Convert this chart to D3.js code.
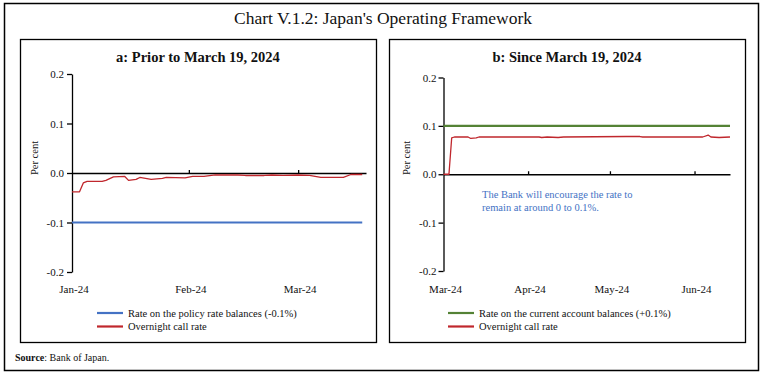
<!DOCTYPE html>
<html>
<head>
<meta charset="utf-8">
<script src="https://cdn.jsdelivr.net/npm/d3@7"></script>
<style>
  body { margin: 0; background: #fff; }
  svg text { font-family: "Liberation Serif", "Times New Roman", serif; fill: #111; }
</style>
</head>
<body>
<svg id="chart" width="763" height="374"></svg>
<script>
//
// Data
//

const chartTitle = "Chart V.1.2: Japan's Operating Framework";
const yTicks = [0.2, 0.1, 0.0, -0.1, -0.2];

// a: Prior to March 19, 2024
const titleA = "a: Prior to March 19, 2024";
const domainA = ["2024-01-01", "2024-03-19"];
const monthsA = ["2024-01-01", "2024-02-01", "2024-03-01"];
const monthLabelsA = ["Jan-24", "Feb-24", "Mar-24"];
const policyDatesA = ["2024-01-01", "2024-03-18"];
const policyRateA = [-0.1, -0.1];
const callDatesA = [
  "2024-01-01", "2024-01-03", "2024-01-04", "2024-01-05", "2024-01-09",
  "2024-01-10", "2024-01-12", "2024-01-15", "2024-01-16", "2024-01-18",
  "2024-01-19", "2024-01-22", "2024-01-25", "2024-01-26", "2024-01-31",
  "2024-02-02", "2024-02-05", "2024-02-08", "2024-02-14", "2024-02-16",
  "2024-02-21", "2024-02-23", "2024-02-26", "2024-03-01", "2024-03-04",
  "2024-03-07", "2024-03-12", "2024-03-13", "2024-03-15", "2024-03-18",
];
const callRateA = [
  -0.038, -0.038, -0.020, -0.017, -0.017,
  -0.015, -0.008, -0.007, -0.015, -0.013,
  -0.009, -0.013, -0.011, -0.009, -0.010,
  -0.007, -0.007, -0.004, -0.004, -0.005,
  -0.005, -0.004, -0.005, -0.004, -0.005,
  -0.009, -0.009, -0.009, -0.003, -0.003,
];
const legendA = ["Rate on the policy rate balances (-0.1%)", "Overnight call rate"];

// b: Since March 19, 2024
const titleB = "b: Since March 19, 2024";
const domainB = ["2024-03-01", "2024-06-14"];
const monthsB = ["2024-03-01", "2024-04-01", "2024-05-01", "2024-06-01"];
const monthLabelsB = ["Mar-24", "Apr-24", "May-24", "Jun-24"];
const accountDatesB = ["2024-03-01", "2024-06-14"];
const accountRateB = [0.1, 0.1];
const callDatesB = [
  "2024-03-01", "2024-03-03", "2024-03-04", "2024-03-05", "2024-03-10",
  "2024-03-11", "2024-03-13", "2024-03-14", "2024-04-05", "2024-04-06",
  "2024-04-08", "2024-04-12", "2024-04-14", "2024-05-07", "2024-05-12",
  "2024-05-13", "2024-06-04", "2024-06-06", "2024-06-07", "2024-06-10",
  "2024-06-14",
];
const callRateB = [
  0.0, 0.0, 0.075, 0.077, 0.077,
  0.074, 0.075, 0.077, 0.077, 0.076,
  0.077, 0.076, 0.077, 0.078, 0.078,
  0.077, 0.077, 0.081, 0.077, 0.076,
  0.077,
];
const legendB = ["Rate on the current account balances (+0.1%)", "Overnight call rate"];
const noteB = ["The Bank will encourage the rate to", "remain at around 0 to 0.1%."];

const sourceLabel = "Source";
const sourceText = ": Bank of Japan.";

//
// Drawing
//

const parse = d3.timeParse("%Y-%m-%d");
const blue = "#4472c4";
const red = "#c0272d";
const green = "#548235";

const svg = d3.select("#chart");

svg.append("rect")
  .attr("x", 4.5).attr("y", 3.5).attr("width", 754).attr("height", 367)
  .attr("fill", "none").attr("stroke", "#000").attr("stroke-width", 1.5);

svg.append("text")
  .attr("x", 383).attr("y", 24)
  .attr("text-anchor", "middle")
  .style("font-size", "17.5px")
  .text(chartTitle);

function zip(dates, values) {
  return dates.map((d, i) => ({ date: parse(d), value: values[i] }));
}

function mkpanel(p) {
  const g = svg.append("g");

  g.append("rect")
    .attr("x", p.box[0] + 0.5).attr("y", 39.5)
    .attr("width", p.box[1] - p.box[0]).attr("height", 303)
    .attr("fill", "none").attr("stroke", "#000").attr("stroke-width", 1.3);

  g.append("text")
    .attr("x", (p.box[0] + p.box[1]) / 2).attr("y", 62)
    .attr("text-anchor", "middle")
    .style("font-size", "14.5px").style("font-weight", "bold")
    .text(p.title);

  const x = d3.scaleTime().domain(p.domain.map(parse)).range(p.xrange);
  const y = d3.scaleLinear().domain([0.2, -0.2]).range(p.yrange);

  // y axis
  const yAxis = g.append("g")
    .attr("transform", `translate(${p.xrange[0]},0)`)
    .call(d3.axisLeft(y).tickValues(yTicks).tickSize(5).tickSizeOuter(0)
      .tickPadding(p.pad).tickFormat((d) => d.toFixed(1)));
  yAxis.select(".domain").attr("stroke-width", 1.3);
  yAxis.selectAll(".tick line").attr("stroke-width", 1.3);
  yAxis.selectAll("text").style("font-size", "11px").attr("fill", "#111");

  g.append("text")
    .attr("transform", `translate(${p.xrange[0] - 34},158) rotate(-90)`)
    .attr("text-anchor", "middle")
    .style("font-size", "10.5px")
    .text("Per cent");

  // x axis at zero, ticks pointing up
  const xAxis = g.append("g")
    .attr("transform", `translate(0,${y(0)})`)
    .call(d3.axisTop(x).tickValues(p.months.slice(1).map(parse))
      .tickSize(3).tickSizeOuter(0).tickFormat(""));
  xAxis.select(".domain").attr("stroke-width", 1.3);
  xAxis.selectAll(".tick line").attr("stroke-width", 1.3);

  g.selectAll(".month")
    .data(p.months)
    .enter()
    .append("text")
    .attr("class", "month")
    .attr("x", (d) => x(parse(d)) + 2)
    .attr("y", 293)
    .attr("text-anchor", "middle")
    .style("font-size", "11px")
    .text((d, i) => p.monthLabels[i]);

  const line = d3.line().x((d) => x(d.date)).y((d) => y(d.value));

  g.append("path")
    .datum(zip(p.flatDates, p.flatValues))
    .attr("d", line)
    .attr("fill", "none")
    .attr("stroke", p.flatColor)
    .attr("stroke-width", 2.2);

  g.append("path")
    .datum(zip(p.callDates, p.callValues))
    .attr("d", line)
    .attr("fill", "none")
    .attr("stroke", red)
    .attr("stroke-width", 1.3)
    .attr("stroke-linejoin", "round");

  // legend
  const leg = g.selectAll(".legend")
    .data([p.flatColor, red])
    .enter()
    .append("g")
    .attr("class", "legend")
    .attr("transform", (d, i) => `translate(${p.legendX},${313 + i * 13.5})`);
  leg.append("line")
    .attr("x1", 0).attr("x2", 26)
    .attr("stroke", (d) => d).attr("stroke-width", 2.2);
  leg.append("text")
    .attr("x", 31).attr("y", 3.5)
    .style("font-size", "10.5px")
    .text((d, i) => p.legend[i]);

  return { g, x, y };
}

mkpanel({
  box: [20, 376],
  title: titleA,
  domain: domainA,
  xrange: [72, 366],
  yrange: [74, 272],
  pad: 3,
  months: monthsA,
  monthLabels: monthLabelsA,
  flatDates: policyDatesA,
  flatValues: policyRateA,
  flatColor: blue,
  callDates: callDatesA,
  callValues: callRateA,
  legendX: 97,
  legend: legendA,
});

const pb = mkpanel({
  box: [389, 745],
  title: titleB,
  domain: domainB,
  xrange: [443.5, 730],
  yrange: [77.5, 271],
  pad: 2,
  months: monthsB,
  monthLabels: monthLabelsB,
  flatDates: accountDatesB,
  flatValues: accountRateB,
  flatColor: green,
  callDates: callDatesB,
  callValues: callRateB,
  legendX: 448,
  legend: legendB,
});

pb.g.selectAll(".note")
  .data(noteB)
  .enter()
  .append("text")
  .attr("class", "note")
  .attr("x", 482)
  .attr("y", (d, i) => 198 + i * 13)
  .style("font-size", "10.5px")
  .style("fill", blue)
  .text((d) => d);

const src = svg.append("text")
  .attr("x", 15).attr("y", 361)
  .style("font-size", "10px");
src.append("tspan").style("font-weight", "bold").text(sourceLabel);
src.append("tspan").text(sourceText);
</script>
</body>
</html>
